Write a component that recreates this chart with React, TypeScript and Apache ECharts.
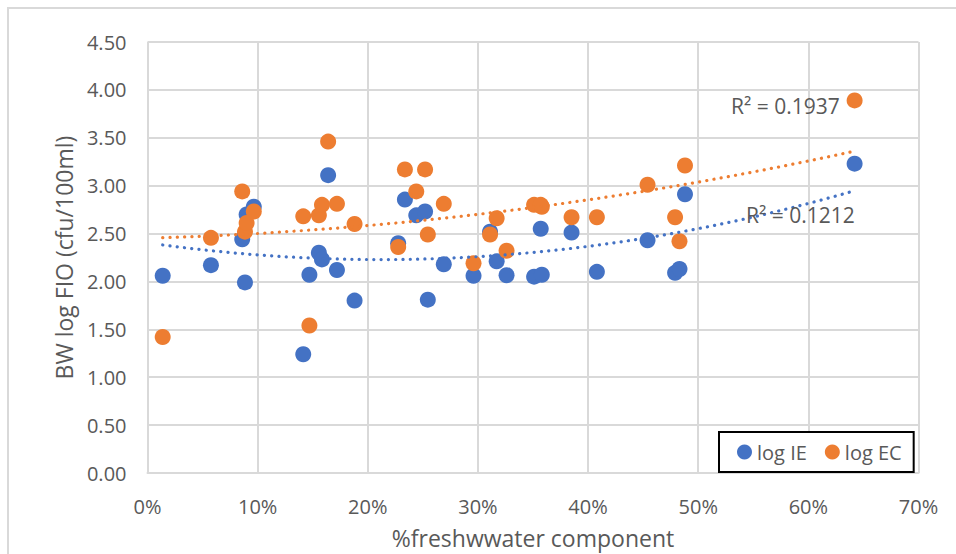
import React, { useEffect, useRef } from "react";
import * as echarts from "echarts";

// % freshwater component of each sample
const freshPct = [
  1.38, 5.76, 8.6, 8.85, 9.0, 9.65, 14.14, 14.7, 15.56, 15.84, 16.4, 17.2, 18.8,
  22.76, 23.37, 24.4, 25.2, 25.45, 26.9, 29.6, 31.1, 31.7, 32.6, 35.1, 35.8, 35.7,
  38.5, 40.8, 45.4, 47.9, 48.3, 48.8, 64.2,
];

// log intestinal enterococci (cfu/100ml)
const logIE = [
  2.06, 2.17, 2.44, 1.99, 2.7, 2.78, 1.24, 2.07, 2.3, 2.23, 3.11, 2.12, 1.8,
  2.4, 2.855, 2.69, 2.73, 1.81, 2.18, 2.06, 2.52, 2.21, 2.065, 2.05, 2.07, 2.55,
  2.51, 2.1, 2.43, 2.09, 2.13, 2.91, 3.23,
];

// log E. coli (cfu/100ml)
const logEC = [
  1.42, 2.455, 2.94, 2.52, 2.61, 2.73, 2.68, 1.54, 2.69, 2.8, 3.46, 2.81, 2.6,
  2.36, 3.17, 2.94, 3.17, 2.49, 2.81, 2.19, 2.49, 2.66, 2.32, 2.8, 2.78, 2.8,
  2.67, 2.67, 3.01, 2.67, 2.42, 3.21, 3.89,
];

const seriesNames = ["log IE", "log EC"];
const seriesColors = ["#4472C4", "#ED7D31"];
const r2Labels = ["R\u00B2 = 0.1212", "R\u00B2 = 0.1937"];

const xTicks = { min: 0, max: 70, interval: 10 };
const yTicks = { min: 0, max: 4.5, interval: 0.5 };

const FONT = "'Open Sans', sans-serif";
const TEXT_GREY = "#595959";
const GRID_GREY = "#D9D9D9";

// Second-order polynomial least-squares fit y = a + b x + c x^2
function quadFit(xs: number[], ys: number[]) {
  let s0 = 0, s1 = 0, s2 = 0, s3 = 0, s4 = 0, t0 = 0, t1 = 0, t2 = 0;
  for (let i = 0; i < xs.length; i++) {
    const x = xs[i];
    const y = ys[i];
    s0 += 1; s1 += x; s2 += x * x; s3 += x * x * x; s4 += x * x * x * x;
    t0 += y; t1 += x * y; t2 += x * x * y;
  }
  const m = [
    [s0, s1, s2, t0],
    [s1, s2, s3, t1],
    [s2, s3, s4, t2],
  ];
  for (let c = 0; c < 3; c++) {
    let p = c;
    for (let r = c + 1; r < 3; r++) if (Math.abs(m[r][c]) > Math.abs(m[p][c])) p = r;
    [m[c], m[p]] = [m[p], m[c]];
    for (let r = 0; r < 3; r++) {
      if (r === c) continue;
      const f = m[r][c] / m[c][c];
      for (let k = c; k < 4; k++) m[r][k] -= f * m[c][k];
    }
  }
  const a = m[0][3] / m[0][0];
  const b = m[1][3] / m[1][1];
  const c2 = m[2][3] / m[2][2];
  const lo = Math.min(...xs);
  const hi = Math.max(...xs);
  const pts: number[][] = [];
  const steps = 80;
  for (let i = 0; i <= steps; i++) {
    const x = lo + ((hi - lo) * i) / steps;
    pts.push([x, a + b * x + c2 * x * x]);
  }
  return pts;
}

export default function App() {
  const ref = useRef<HTMLDivElement>(null);

  useEffect(() => {
    if (!ref.current) return;
    const chart = echarts.init(ref.current, undefined, { renderer: "svg" });
    const ieData = freshPct.map((x, i) => [x, logIE[i]]);
    const ecData = freshPct.map((x, i) => [x, logEC[i]]);

    const trendStyle = (color: string) => ({
      color,
      width: 3.2,
      type: [0.1, 7.2] as number[],
      cap: "round" as const,
    });

    chart.setOption({
      animation: false,
      backgroundColor: "#fff",
      textStyle: { fontFamily: FONT },
      grid: { left: 147.5, right: 37.5, top: 42, bottom: 80.5, containLabel: false },
      xAxis: {
        type: "value",
        min: xTicks.min,
        max: xTicks.max,
        interval: xTicks.interval,
        name: "%freshwwater component",
        nameLocation: "middle",
        nameGap: 53,
        nameTextStyle: { fontFamily: FONT, fontSize: 23, color: TEXT_GREY },
        axisLine: { show: true, lineStyle: { color: GRID_GREY, width: 2 } },
        axisTick: { show: false },
        axisLabel: {
          formatter: (v: number) => `${v}%`,
          fontFamily: FONT,
          fontSize: 20,
          color: TEXT_GREY,
          margin: 23,
        },
        splitLine: { show: true, lineStyle: { color: GRID_GREY, width: 2 } },
      },
      yAxis: {
        type: "value",
        min: yTicks.min,
        max: yTicks.max,
        interval: yTicks.interval,
        name: "BW log FIO (cfu/100ml)",
        nameLocation: "middle",
        nameRotate: 90,
        nameGap: 72,
        nameTextStyle: { fontFamily: FONT, fontSize: 23, color: TEXT_GREY },
        axisLine: { show: false },
        axisTick: { show: false },
        axisLabel: {
          formatter: (v: number) => v.toFixed(2),
          fontFamily: FONT,
          fontSize: 20,
          color: TEXT_GREY,
          margin: 21,
        },
        splitLine: { show: true, lineStyle: { color: GRID_GREY, width: 2 } },
      },
      legend: {
        data: seriesNames,
        left: 719,
        top: 432,
        orient: "horizontal",
        icon: "circle",
        itemWidth: 15,
        itemHeight: 15,
        itemGap: 18,
        padding: [10, 12, 10, 18],
        backgroundColor: "#fff",
        borderColor: "#000",
        borderWidth: 2,
        borderRadius: 0,
        textStyle: { fontFamily: FONT, fontSize: 20, color: TEXT_GREY },
      },
      graphic: [
        {
          type: "rect",
          shape: { x: 8, y: 8, width: 1000, height: 600 },
          style: { fill: "none", stroke: GRID_GREY, lineWidth: 2 },
          silent: true,
          z: -1,
        },
        {
          type: "text",
          left: 731,
          top: 95,
          style: { text: r2Labels[1], font: `21px ${FONT}`, fill: TEXT_GREY },
          z: 10,
        },
        {
          type: "text",
          left: 746,
          top: 204,
          style: { text: r2Labels[0], font: `21px ${FONT}`, fill: TEXT_GREY },
          z: 10,
        },
      ],
      series: [
        {
          name: seriesNames[0],
          type: "scatter",
          data: ieData,
          symbol: "circle",
          symbolSize: 16,
          itemStyle: { color: seriesColors[0], opacity: 1 },
          z: 3,
        },
        {
          name: seriesNames[1],
          type: "scatter",
          data: ecData,
          symbol: "circle",
          symbolSize: 16,
          itemStyle: { color: seriesColors[1], opacity: 1 },
          z: 4,
        },
        {
          name: "trend IE",
          type: "line",
          data: quadFit(freshPct, logIE),
          showSymbol: false,
          symbol: "none",
          smooth: false,
          lineStyle: trendStyle(seriesColors[0]),
          silent: true,
          z: 5,
        },
        {
          name: "trend EC",
          type: "line",
          data: quadFit(freshPct, logEC),
          showSymbol: false,
          symbol: "none",
          smooth: false,
          lineStyle: trendStyle(seriesColors[1]),
          silent: true,
          z: 5,
        },
      ],
    });
    return () => chart.dispose();
  }, []);

  return (
    <div
      ref={ref}
      style={{ position: "fixed", left: 0, top: 0, width: 956, height: 554 }}
    />
  );
}
